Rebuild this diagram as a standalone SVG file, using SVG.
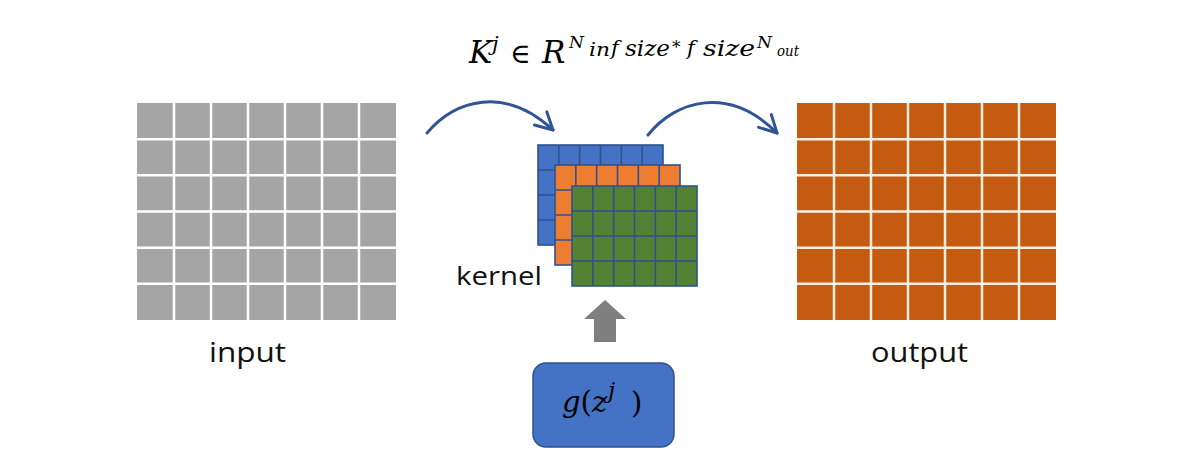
<svg xmlns="http://www.w3.org/2000/svg" width="1204" height="472" viewBox="0 0 1204 472">
<style>
.math{font-family:"DejaVu Serif","Liberation Serif",serif;font-style:italic;fill:#000}
.up{font-style:normal}
.lbl{font-family:"Open Sans","Noto Sans","Liberation Sans",sans-serif;fill:#111}
.conn{fill:none;stroke:#2F5597;stroke-width:3;stroke-linecap:round}
.kl{stroke:#2F528F;stroke-width:1.6}
.kg{fill:none;stroke:#2F528F;stroke-width:1.6}
</style>
<defs>
<marker id="ah" markerUnits="userSpaceOnUse" markerWidth="30" markerHeight="30" refX="0" refY="0" viewBox="-20 -15 25 30" orient="auto" overflow="visible">
<path d="M-17,-9 L0,0 L-17,9" fill="none" stroke="#2F5597" stroke-width="3" stroke-linecap="round" stroke-linejoin="round"/>
</marker>
<path id="kgrid" d="M20.83,0V100M41.67,0V100M62.5,0V100M83.33,0V100M104.17,0V100M0,25H125M0,50H125M0,75H125"/>
<path id="bgrid" d="M37,0V217M74,0V217M111,0V217M148,0V217M185,0V217M222,0V217M0,36.17H259M0,72.33H259M0,108.5H259M0,144.67H259M0,180.83H259"/>
</defs>
<rect width="1204" height="472" fill="#fff"/>

<g id="formula">
<text class="math" x="469" y="63" font-size="31">K</text>
<text class="math" x="492" y="51" font-size="21">j</text>
<text class="math up" x="510" y="63" font-size="28">∈</text>
<text class="math" x="542" y="63" font-size="31">R</text>
<text class="math" x="569" y="48" font-size="17">N</text>
<text class="math" x="589" y="56" font-size="19" textLength="21" lengthAdjust="spacingAndGlyphs">in</text>
<text class="math" x="611" y="55" font-size="21">f</text>
<text class="math" x="625" y="56" font-size="22" textLength="45" lengthAdjust="spacingAndGlyphs">size</text>
<text class="math up" x="672" y="53" font-size="17">*</text>
<text class="math" x="687" y="55" font-size="21">f</text>
<text class="math" x="703" y="56" font-size="22" textLength="52" lengthAdjust="spacingAndGlyphs">size</text>
<text class="math" x="757" y="48" font-size="17">N</text>
<text class="math" x="777" y="56" font-size="15" textLength="22" lengthAdjust="spacingAndGlyphs">out</text>
</g>

<g id="input">
<rect x="137" y="103" width="259" height="217" fill="#A5A5A5"/>
<use href="#bgrid" x="137" y="103" fill="none" stroke="#FFFFFF" stroke-width="2.5"/>
<text class="lbl" x="209" y="362" font-size="28" textLength="77" lengthAdjust="spacingAndGlyphs">input</text>
</g>

<g id="output">
<rect x="797" y="103" width="259" height="217" fill="#C55A11"/>
<use href="#bgrid" x="797" y="103" fill="none" stroke="#FCEEDF" stroke-width="2.5"/>
<text class="lbl" x="871" y="362" font-size="28" textLength="97" lengthAdjust="spacingAndGlyphs">output</text>
</g>

<g id="kernel">
<rect class="kl" x="538" y="145" width="125" height="100" fill="#4472C4"/>
<use href="#kgrid" x="538" y="145" class="kg"/>
<rect class="kl" x="555" y="165" width="125" height="100" fill="#ED7D31"/>
<use href="#kgrid" x="555" y="165" class="kg"/>
<rect class="kl" x="572" y="186" width="125" height="100" fill="#548235"/>
<use href="#kgrid" x="572" y="186" class="kg"/>
<text class="lbl" x="456" y="285" font-size="26" textLength="86" lengthAdjust="spacingAndGlyphs">kernel</text>
</g>

<g id="up-arrow">
<path d="M605,300 L626,319 L616,319 L616,342 L594,342 L594,319 L584,319 Z" fill="#7F7F7F"/>
</g>

<g id="gz">
<rect x="533" y="363" width="141" height="84" rx="13" fill="#4472C4" stroke="#2F528F" stroke-width="1.5"/>
<text class="math" x="562" y="412" font-size="29">g<tspan class="up">(</tspan>z<tspan x="608" y="398" font-size="23">j</tspan><tspan class="up" x="631" y="413" font-size="29">)</tspan></text>
</g>

<g id="connectors">
<path class="conn" d="M427,133 C455,100 505,85 553,130" marker-end="url(#ah)"/>
<path class="conn" d="M648,135 C676,100 729,85 777,133" marker-end="url(#ah)"/>
</g>
</svg>
